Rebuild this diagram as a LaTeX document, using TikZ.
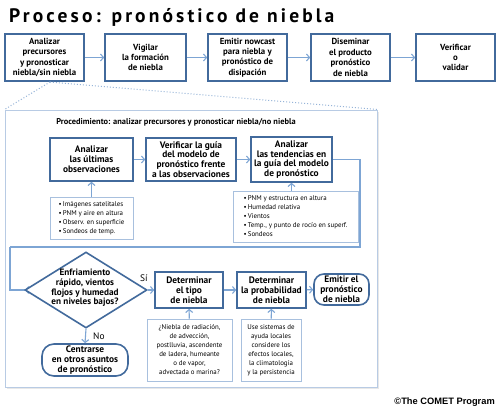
\documentclass[tikz,border=0pt]{standalone}
\usepackage{fontspec}
\setmainfont{PT Sans}
\newfontfamily\titlefont[LetterSpace=16]{PT Sans}
\newfontfamily\arialf{Liberation Sans}
\usetikzlibrary{arrows.meta,shapes.geometric,shadows}
\definecolor{boxblue}{RGB}{66,106,156}
\definecolor{arrblue}{RGB}{125,165,212}
\definecolor{listblue}{RGB}{168,192,222}
\definecolor{procblue}{RGB}{184,203,228}
\definecolor{dotblue}{RGB}{150,180,216}
\tikzset{
  mainbox/.style={draw=boxblue, line width=1.6pt, fill=white, align=center, inner sep=1pt,
    font=\bfseries\fontsize{8.8}{10.4}\selectfont},
  stepbox/.style={draw=boxblue, line width=1.6pt, fill=white, align=center, inner sep=1pt,
    font=\fontsize{9.4}{9.8}\selectfont\bfseries},
  listbox/.style={draw=listblue, line width=0.9pt, fill=white, align=left, inner sep=2pt,
    font=\fontsize{6.9}{9}\selectfont},
  notebox/.style={draw=listblue, line width=0.9pt, fill=white, align=center, inner sep=1pt,
    font=\fontsize{6.9}{9}\selectfont},
  pill/.style={stepbox, rounded corners=11pt},
  arr/.style={draw=arrblue, line width=1.1pt, -{Straight Barb[length=3pt,width=7pt,line width=1.1pt]}},
  conn/.style={draw=arrblue, line width=1.1pt},
  dia/.style={diamond, draw=boxblue, line width=1.6pt, fill=white, minimum width=122pt, minimum height=76pt, inner sep=0pt},
  lbl/.style={font=\fontsize{9.4}{10}\selectfont, inner sep=0pt}
}
\begin{document}
\begin{tikzpicture}[x=1pt,y=-1pt]
\useasboundingbox[fill=white] (0,0) rectangle (500,410);

% title
\node[anchor=west, inner sep=0pt, font=\titlefont\bfseries\fontsize{19.5}{21}\selectfont] (title) at (9,17) {Proceso: pronóstico de niebla};

% top row
\node[mainbox, minimum width=79pt, minimum height=47pt] (b1) at (44.5,57.5) {Analizar\\precursores\\y pronosticar\\niebla/sin niebla};
\node[mainbox, minimum width=81pt, minimum height=47pt] (b2) at (145.5,57.5) {Vigilar\\la formación\\de niebla};
\node[mainbox, minimum width=79pt, minimum height=47pt] (b3) at (247.5,57.5) {Emitir nowcast\\para niebla y\\pronóstico de\\disipación};
\node[mainbox, minimum width=79pt, minimum height=47pt] (b4) at (350.5,57.5) {Diseminar\\el producto\\pronóstico\\de niebla};
\node[mainbox, minimum width=79pt, minimum height=47pt] (b5) at (455.5,57.5) {Verificar\\o\\validar};
\draw[arr] (b1) -- (b2);
\draw[arr] (b2) -- (b3);
\draw[arr] (b3) -- (b4);
\draw[arr] (b4) -- (b5);

% procedure frame
\node[draw=procblue, line width=1pt, fill=white, minimum width=372pt, minimum height=277pt,
  drop shadow={opacity=0.18, shadow xshift=1.5pt, shadow yshift=-2pt}] (proc) at (191,248.5) {};
\coordinate (zoomsrc) at (50,82);
\draw[dotblue, line width=1pt, dotted] (zoomsrc) -- (proc.north west);
\draw[dotblue, line width=1pt, dotted] (zoomsrc) -- (proc.north east);

\node[inner sep=0pt, font=\bfseries\fontsize{8.4}{10}\selectfont] (sub) at (176,122) {Procedimiento: analizar precursores y pronosticar niebla/no niebla};

% row 1
\node[stepbox, minimum width=83pt, minimum height=43pt] (a1) at (91.5,159.5) {Analizar\\las últimas\\observaciones};
\node[stepbox, minimum width=90pt, minimum height=43pt] (a2) at (191,159.5) {Verificar la guía\\del modelo de\\pronóstico frente\\a las observaciones};
\node[stepbox, minimum width=81pt, minimum height=45pt] (a3) at (291.5,159.5) {Analizar\\las tendencias en\\la guía del modelo\\de pronóstico};
\draw[arr] (a1) -- (a2);
\draw[arr] (a2) -- (a3);

\node[listbox, minimum width=83pt, minimum height=42pt] (l1) at (91.5,218) {\textbullet\,Imágenes satelitales\\\textbullet\,PNM y aire en altura\\\textbullet\,Observ. en superficie\\\textbullet\,Sondeos de temp.};
\node[listbox, minimum width=125pt, minimum height=51pt] (l2) at (295.5,216.5) {\textbullet\,PNM y estructura en altura\\\textbullet\,Humedad relativa\\\textbullet\,Vientos\\\textbullet\,Temp., y punto de rocío en superf.\\\textbullet\,Sondeos};
\draw[arr] (l1) -- (a1);
\draw[arr] (l2.north -| a3.south) -- (a3.south);

% connector to decision
\coordinate (r1) at (360,247);
\coordinate (l1c) at (10,247);
\draw[conn] (a3.east) -| (r1) -- (l1c);
\draw[arr] (l1c) |- (86,290) -- (25,290);

% decision row
\node[dia] (dia) at (86,290) {};
\node[align=center, inner sep=0pt, font=\bfseries\fontsize{9.2}{9.7}\selectfont] (diatext) at (85,288) {Enfriamiento\\rápido, vientos\\flojos y humedad\\en niveles bajos?};
\node[stepbox, minimum width=68pt, minimum height=36pt] (d1) at (189,290) {Determinar\\el tipo\\de niebla};
\node[stepbox, minimum width=69pt, minimum height=36pt] (d2) at (271.5,290) {Determinar\\la probabilidad\\de niebla};
\node[pill, minimum width=55pt, minimum height=31pt, rounded corners=10pt] (em) at (341.5,289.5) {Emitir el\\pronóstico\\de niebla};
\node[pill, minimum width=86pt, minimum height=32pt, rounded corners=12pt] (cen) at (85,360) {Centrarse\\en otros asuntos\\de pronóstico};
\draw[arr] (dia.east) -- (d1.west);
\draw[arr] (d1) -- (d2);
\draw[arr] (d2) -- (em);
\draw[arr] (dia.south) -- (cen.north);
\node[lbl, anchor=south west] (si) at (140,282) {Sí};
\node[lbl, anchor=west] (no) at (93,336) {No};

\node[notebox, minimum width=85pt, minimum height=62pt] (n1) at (189.5,350) {¿Niebla de radiación,\\de advección,\\postlluvia, ascendente\\de ladera, humeante\\o de vapor,\\advectada o marina?};
\node[notebox, minimum width=60pt, minimum height=62pt] (n2) at (271,350) {Use sistemas de\\ayuda locales\\considere los\\efectos locales,\\la climatología\\y la persistencia};
\draw[arr] (n1) -- (d1);
\draw[arr] (n2) -- (d2);

\node[anchor=east, inner sep=0pt, font=\arialf\bfseries\fontsize{9.3}{10}\selectfont] (copy) at (495,402) {©The COMET Program};
\end{tikzpicture}
\end{document}
